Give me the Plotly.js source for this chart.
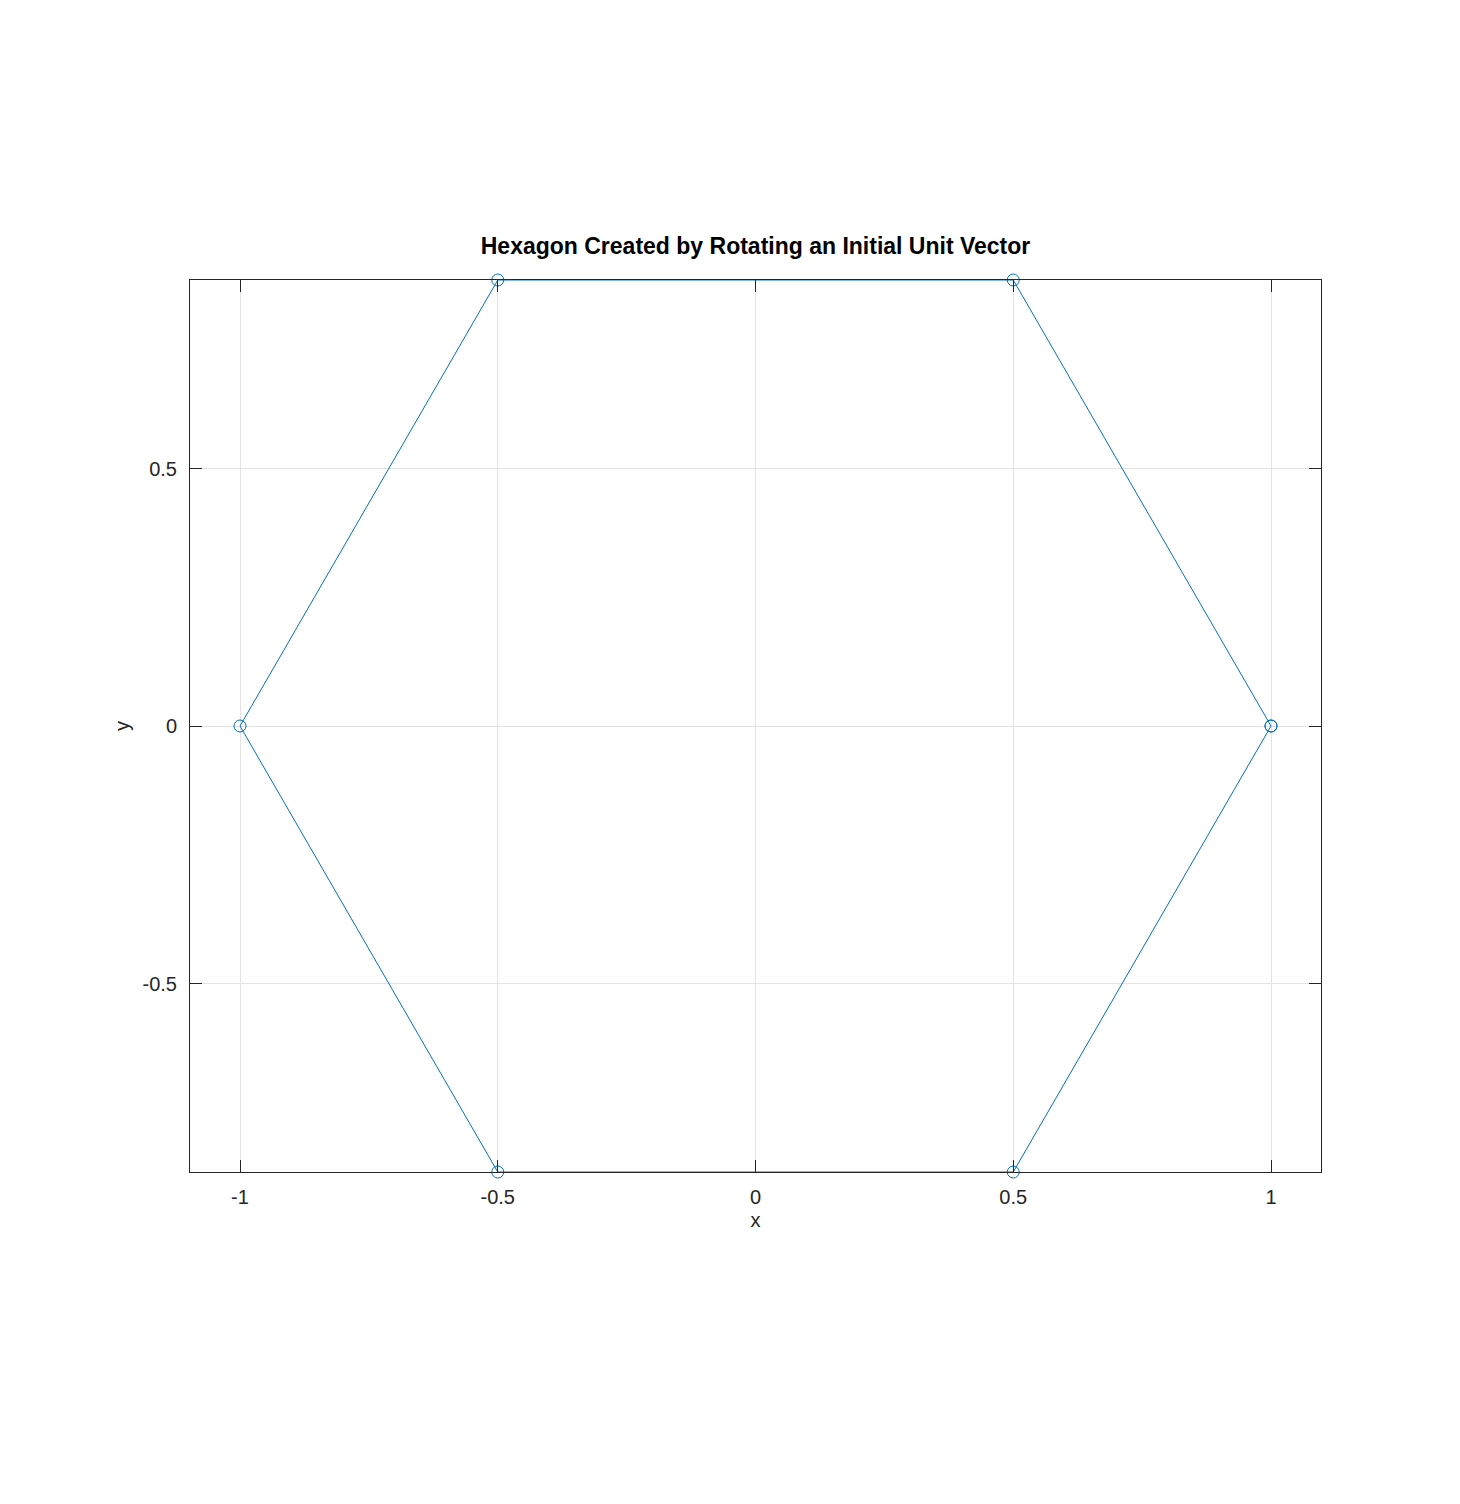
<!DOCTYPE html>
<html>
<head>
<meta charset="utf-8">
<script src="https://cdn.plot.ly/plotly-3.0.1.min.js"></script>
<style>html,body{margin:0;padding:0;background:#fff;}#chart{width:1460px;height:1504px;}</style>
</head>
<body>
<div id="chart"></div>
<script>
const xValues = [1, 0.5, -0.5, -1, -0.5, 0.5, 1];
const yValues = [0, 0.8660254, 0.8660254, 0, -0.8660254, -0.8660254, 0];
const xTicks = [-1, -0.5, 0, 0.5, 1];
const xTickLabels = ['-1', '-0.5', '0', '0.5', '1'];
const yTicks = [-0.5, 0, 0.5];
const yTickLabels = ['-0.5', '0', '0.5'];

const fontFam = '"Liberation Sans", Arial, Helvetica, sans-serif';

const trace = {
  x: xValues, y: yValues,
  type: 'scatter', mode: 'lines+markers',
  line: {color: '#0072BD', width: 1},
  marker: {symbol: 'circle-open', size: 12, color: '#0072BD', line: {width: 1, color: '#0072BD'}},
  cliponaxis: false,
  hoverinfo: 'x+y'
};

const axisCommon = {
  showline: true, linecolor: '#262626', linewidth: 1,
  mirror: 'ticks', ticks: 'inside', ticklen: 12, tickcolor: '#262626', tickwidth: 1,
  showgrid: true, gridcolor: '#e3e3e3', gridwidth: 1,
  zeroline: false,
  tickfont: {family: fontFam, size: 20, color: '#262626'},
  tickmode: 'array'
};

const layout = {
  width: 1460, height: 1504,
  paper_bgcolor: '#ffffff', plot_bgcolor: '#ffffff',
  margin: {l: 190, r: 139, t: 280, b: 332, pad: 0},
  showlegend: false,
  title: {
    text: '<b>Hexagon Created by Rotating an Initial Unit Vector</b>',
    font: {family: fontFam, size: 23, color: '#000000'},
    x: 0.5, xref: 'paper', xanchor: 'center',
    y: 1 - 246/1504, yref: 'container', yanchor: 'middle'
  },
  xaxis: Object.assign({}, axisCommon, {
    range: [-1.097, 1.097],
    tickvals: xTicks, ticktext: xTickLabels,
    ticklabelstandoff: 7,
    title: {text: 'x', font: {family: fontFam, size: 20, color: '#262626'}, standoff: 5}
  }),
  yaxis: Object.assign({}, axisCommon, {
    range: [-0.8660254, 0.8660254],
    tickvals: yTicks, ticktext: yTickLabels,
    ticklabelstandoff: 8,
    title: {text: 'y', font: {family: fontFam, size: 20, color: '#262626'}, standoff: 7}
  })
};

Plotly.newPlot('chart', [trace], layout, {displayModeBar: false, responsive: false});
</script>
</body>
</html>
